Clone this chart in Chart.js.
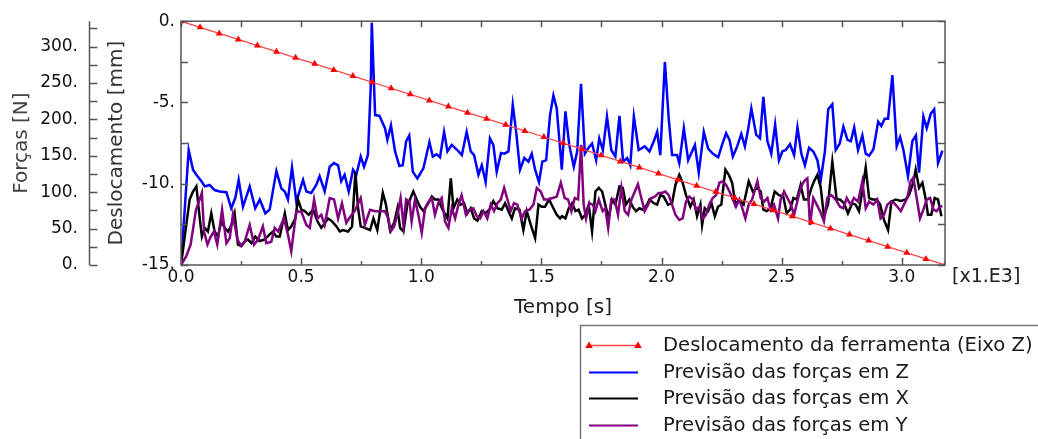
<!DOCTYPE html>
<html lang="pt">
<head>
<meta charset="utf-8">
<title>Deslocamento e forças</title>
<script src="https://cdn.jsdelivr.net/npm/chart.js@4.4.1/dist/chart.umd.min.js"></script>
<style>
  html, body { margin: 0; padding: 0; background: #fff; }
  #wrap { width: 1038px; height: 439px; }
</style>
</head>
<body>
<div id="wrap"><canvas id="grafico" width="1038" height="439"></canvas></div>
<script>
// Valores: tempo em s, forças em N, deslocamento em mm

const tempoDesl = [0, 79.5, 159, 238.5, 318, 397.5, 477, 556.5, 636, 715.5, 795, 874.5, 954, 1033.5,
    1113, 1192.5, 1272, 1351.5, 1431, 1510.5, 1590, 1669.5, 1749, 1828.5, 1908, 1987.5, 2067, 2146.5,
    2226, 2305.5, 2385, 2464.5, 2544, 2623.5, 2703, 2782.5, 2862, 2941.5, 3021, 3100.5, 3180];
const deslocamento = [0, -0.375, -0.75, -1.125, -1.5, -1.875, -2.25, -2.625, -3, -3.375, -3.75, -4.125,
    -4.5, -4.875, -5.25, -5.625, -6, -6.375, -6.75, -7.125, -7.5, -7.875, -8.25, -8.625, -9, -9.375,
    -9.75, -10.125, -10.5, -10.875, -11.25, -11.625, -12, -12.375, -12.75, -13.125, -13.5, -13.875,
    -14.25, -14.625, -15];

// Previsão das forças em Z (azul)
const tempoZ = [0, 32, 50, 64, 85, 99, 119, 140, 161, 189,
    209, 226, 240, 258, 286, 309, 328, 351, 369, 397,
    418, 432, 445, 462, 480, 508, 522, 542, 563, 577,
    598, 619, 637, 654, 667, 681, 698, 716, 730, 748,
    762, 778, 790, 794, 808, 826, 849, 859, 874, 891,
    909, 923, 937, 950, 965, 984, 1009, 1034, 1048, 1064,
    1078, 1095, 1109, 1127, 1150, 1169, 1189, 1206, 1220, 1238,
    1252, 1268, 1286, 1300, 1314, 1332, 1346, 1363, 1381, 1395,
    1411, 1429, 1446, 1460, 1474, 1490, 1504, 1520, 1536, 1550,
    1564, 1585, 1600, 1616, 1635, 1649, 1665, 1681, 1694, 1711,
    1728, 1741, 1756, 1773, 1791, 1808, 1825, 1840, 1857, 1870,
    1885, 1905, 1930, 1950, 1968, 1982, 1995, 2014, 2030, 2044,
    2065, 2074, 2093, 2111, 2127, 2139, 2155, 2176, 2194, 2213,
    2236, 2252, 2269, 2283, 2297, 2315, 2332, 2347, 2360, 2374,
    2394, 2410, 2424, 2441, 2457, 2473, 2489, 2503, 2517, 2535,
    2552, 2566, 2582, 2597, 2614, 2632, 2649, 2663, 2680, 2694,
    2711, 2725, 2742, 2757, 2774, 2788, 2802, 2818, 2836, 2850,
    2864, 2882, 2902, 2915, 2929, 2943, 2961, 2979, 2993, 3007,
    3026, 3044, 3059, 3072, 3090, 3104, 3121, 3135, 3151, 3169];
const forcaZ = [0, 158, 131, 124, 115, 108, 110, 103, 101, 100,
    78, 92, 117, 80, 108, 78, 90, 71, 76, 129,
    105, 101, 90, 134, 87, 117, 101, 99, 110, 122,
    101, 135, 140, 137, 115, 124, 101, 131, 124, 149,
    135, 151, 247, 333, 206, 205, 188, 172, 192, 156,
    136, 137, 170, 178, 128, 119, 133, 169, 149, 152,
    148, 183, 156, 165, 158, 151, 183, 156, 151, 124,
    137, 114, 174, 165, 128, 154, 153, 156, 220, 183,
    131, 147, 142, 153, 131, 114, 142, 144, 206, 233,
    215, 131, 211, 165, 135, 156, 249, 153, 160, 167,
    144, 174, 158, 204, 158, 149, 205, 142, 147, 137,
    204, 158, 163, 156, 170, 183, 151, 279, 201, 151,
    151, 140, 188, 144, 156, 165, 127, 183, 160, 153,
    148, 165, 181, 172, 149, 163, 180, 163, 185, 215,
    179, 174, 231, 170, 153, 193, 144, 156, 158, 166,
    151, 189, 153, 137, 161, 156, 144, 117, 156, 214,
    221, 158, 167, 190, 172, 170, 189, 158, 178, 153,
    150, 159, 197, 191, 201, 201, 261, 163, 176, 158,
    122, 170, 178, 127, 204, 188, 208, 214, 140, 157];

// Previsão das forças em X (preto)
const tempoX = [0, 36, 50, 64, 78, 87, 99, 112, 126, 140,
    154, 168, 182, 196, 210, 223, 237, 251, 265, 279,
    293, 309, 327, 348, 369, 383, 397, 411, 432, 445,
    459, 476, 487, 501, 515, 531, 550, 568, 584, 598,
    612, 629, 647, 661, 674, 695, 712, 726, 737, 748,
    765, 787, 801, 817, 840, 853, 870, 887, 901, 912,
    926, 942, 953, 967, 981, 995, 1009, 1026, 1044, 1057,
    1071, 1089, 1109, 1123, 1134, 1150, 1164, 1178, 1192, 1206,
    1220, 1234, 1252, 1266, 1284, 1300, 1317, 1335, 1349, 1363,
    1377, 1390, 1409, 1425, 1439, 1456, 1474, 1488, 1501, 1515,
    1532, 1550, 1564, 1578, 1586, 1600, 1614, 1628, 1642, 1655,
    1669, 1683, 1697, 1711, 1725, 1739, 1753, 1766, 1780, 1794,
    1808, 1825, 1839, 1852, 1866, 1880, 1894, 1908, 1922, 1940,
    1950, 1968, 1982, 1995, 2009, 2027, 2044, 2058, 2074, 2088,
    2102, 2120, 2134, 2148, 2162, 2169, 2180, 2194, 2208, 2222,
    2235, 2249, 2266, 2280, 2294, 2308, 2324, 2342, 2363, 2380,
    2399, 2413, 2424, 2438, 2454, 2471, 2489, 2507, 2521, 2535,
    2549, 2563, 2579, 2593, 2610, 2624, 2635, 2649, 2663, 2676,
    2693, 2711, 2729, 2743, 2760, 2776, 2794, 2808, 2822, 2832,
    2850, 2864, 2878, 2896, 2910, 2926, 2943, 2957, 2975, 2996,
    3016, 3030, 3048, 3058, 3072, 3086, 3100, 3109, 3123, 3137,
    3151, 3165];
const forcaX = [0, 90, 101, 108, 64, 39, 51, 46, 71, 46,
    39, 60, 51, 46, 55, 71, 28, 26, 32, 35,
    30, 39, 33, 35, 42, 46, 39, 39, 71, 48,
    53, 64, 90, 76, 74, 69, 76, 60, 51, 57,
    64, 60, 53, 46, 48, 46, 53, 128, 78, 53,
    51, 48, 64, 48, 99, 83, 48, 58, 78, 51,
    46, 83, 90, 101, 90, 80, 74, 83, 94, 90,
    90, 76, 64, 119, 78, 90, 83, 85, 71, 78,
    64, 61, 74, 71, 76, 88, 78, 76, 85, 74,
    64, 78, 76, 48, 74, 55, 37, 83, 80, 80,
    90, 78, 69, 64, 67, 64, 78, 85, 74, 76,
    64, 69, 83, 46, 101, 106, 101, 83, 64, 90,
    83, 108, 106, 83, 90, 80, 74, 78, 76, 83,
    90, 85, 83, 96, 94, 83, 85, 110, 124, 113,
    96, 80, 90, 67, 83, 55, 78, 74, 85, 67,
    80, 83, 131, 124, 113, 83, 90, 83, 115, 101,
    106, 101, 76, 74, 78, 101, 96, 94, 71, 76,
    92, 90, 110, 90, 90, 106, 115, 124, 106, 67,
    83, 142, 90, 90, 85, 71, 85, 83, 74, 94,
    134, 92, 90, 90, 83, 62, 48, 87, 90, 88,
    90, 96, 113, 131, 106, 113, 90, 69, 69, 92,
    90, 67];

// Previsão das forças em Y (roxo)
const tempoY = [0, 22, 40, 62, 87, 96, 110, 124, 137, 151,
    171, 189, 203, 216, 235, 251, 265, 286, 304, 321,
    341, 355, 376, 390, 404, 429, 445, 459, 480, 501,
    522, 536, 554, 568, 584, 598, 619, 637, 654, 670,
    688, 706, 723, 748, 765, 787, 808, 828, 849, 863,
    873, 887, 901, 914, 926, 937, 951, 960, 974, 988,
    1002, 1016, 1030, 1044, 1057, 1071, 1085, 1099, 1113, 1127,
    1141, 1155, 1168, 1186, 1200, 1217, 1231, 1245, 1259, 1275,
    1289, 1303, 1317, 1331, 1345, 1359, 1372, 1386, 1400, 1418,
    1432, 1450, 1467, 1481, 1497, 1511, 1529, 1547, 1564, 1581,
    1597, 1611, 1625, 1639, 1653, 1665, 1676, 1686, 1700, 1714,
    1725, 1739, 1755, 1766, 1778, 1791, 1805, 1819, 1833, 1847,
    1861, 1875, 1889, 1902, 1916, 1930, 1944, 1958, 1972, 1988,
    2002, 2016, 2030, 2044, 2058, 2074, 2088, 2102, 2116, 2130,
    2144, 2158, 2172, 2185, 2199, 2213, 2227, 2241, 2255, 2269,
    2283, 2297, 2310, 2324, 2338, 2349, 2363, 2377, 2399, 2413,
    2427, 2441, 2454, 2468, 2485, 2496, 2510, 2524, 2538, 2552,
    2565, 2579, 2593, 2607, 2618, 2632, 2646, 2660, 2676, 2690,
    2707, 2725, 2743, 2757, 2771, 2787, 2801, 2818, 2836, 2850,
    2864, 2882, 2898, 2912, 2926, 2940, 2954, 2968, 2982, 2996,
    3009, 3023, 3037, 3048, 3062, 3076, 3090, 3104, 3118, 3132,
    3145, 3159, 3169];
const forcaY = [0, 12, 28, 75, 99, 46, 28, 39, 46, 28,
    76, 30, 37, 69, 35, 26, 32, 55, 28, 35,
    53, 30, 32, 51, 46, 64, 42, 19, 74, 73,
    55, 51, 90, 64, 69, 55, 92, 90, 64, 85,
    58, 67, 74, 92, 55, 76, 74, 74, 74, 64,
    46, 53, 69, 92, 55, 90, 87, 60, 90, 69,
    44, 78, 87, 92, 69, 85, 92, 60, 51, 78,
    64, 83, 96, 69, 76, 78, 67, 64, 74, 64,
    83, 74, 85, 90, 106, 90, 74, 85, 83, 64,
    74, 76, 83, 106, 101, 90, 90, 92, 94, 113,
    92, 90, 74, 92, 90, 165, 83, 64, 85, 83,
    74, 90, 74, 78, 51, 90, 90, 69, 106, 74,
    69, 90, 101, 111, 92, 74, 83, 92, 94, 99,
    99, 101, 96, 83, 69, 62, 64, 87, 94, 90,
    76, 80, 64, 69, 83, 92, 96, 113, 115, 110,
    101, 90, 80, 90, 76, 64, 83, 90, 115, 92,
    87, 92, 76, 83, 64, 90, 101, 92, 83, 69,
    87, 106, 115, 119, 55, 92, 83, 74, 60, 92,
    96, 90, 80, 78, 92, 83, 92, 87, 115, 78,
    87, 83, 90, 64, 69, 83, 87, 85, 80, 74,
    83, 92, 115, 120, 92, 64, 76, 90, 92, 76,
    74, 80, 81];

// Marcas dos eixos
const ticksTempo = [0, 500, 1000, 1500, 2000, 2500, 3000];
const ticksForca = [0, 50, 100, 150, 200, 250, 300];
const ticksDesl = [0, -5, -10, -15];

const FONTE = "'DejaVu Sans', Verdana, sans-serif";

function pares(xs, ys) {
    const n = Math.min(xs.length, ys.length);
    if (xs.length !== ys.length) console.warn('tamanhos diferentes', xs.length, ys.length);
    const out = [];
    for (let i = 0; i < n; i++) out.push({ x: xs[i], y: ys[i] });
    return out;
}

function triangulo(ctx, x, y, r) {
    ctx.beginPath();
    ctx.moveTo(x, y - r);
    ctx.lineTo(x + r * 0.95, y + r * 0.6);
    ctx.lineTo(x - r * 0.95, y + r * 0.6);
    ctx.closePath();
    ctx.fill();
}

// Moldura, marcas internas, eixo das forças e legenda
const moldura = {
    id: 'moldura',
    afterDraw(chart) {
        const ctx = chart.ctx;
        const a = chart.chartArea;
        const sx = chart.scales.x;
        const sd = chart.scales.yDesl;
        const sf = chart.scales.yForca;
        ctx.save();
        ctx.strokeStyle = '#555';
        ctx.lineWidth = 1.5;

        // marcas internas em cima e em baixo
        ctx.beginPath();
        for (let v = 0; v <= sx.max; v += 250) {
            const px = Math.round(sx.getPixelForValue(v)) + 0.5;
            const longa = v % 500 === 0;
            ctx.moveTo(px, a.top);
            ctx.lineTo(px, a.top + 6);
            ctx.moveTo(px, a.bottom);
            ctx.lineTo(px, a.bottom - (longa ? 7 : 4));
        }
        // marcas internas à esquerda e à direita
        for (let v = 0; v >= -15; v -= 2.5) {
            const py = Math.round(sd.getPixelForValue(v)) + 0.5;
            ctx.moveTo(a.left, py);
            ctx.lineTo(a.left + 7, py);
            ctx.moveTo(a.right, py);
            ctx.lineTo(a.right - 7, py);
        }
        ctx.stroke();
        ctx.strokeRect(a.left, a.top, a.right - a.left, a.bottom - a.top);

        // eixo das forças
        const ex = Math.round(sf.right) + 0.5;
        ctx.beginPath();
        ctx.moveTo(ex, sf.getPixelForValue(sf.max));
        ctx.lineTo(ex, sf.getPixelForValue(0));
        for (let v = 0; v <= sf.max; v += 25) {
            const py = Math.round(sf.getPixelForValue(v)) + 0.5;
            ctx.moveTo(ex, py);
            ctx.lineTo(ex + 8, py);
        }
        ctx.stroke();

        // multiplicador do eixo do tempo
        ctx.fillStyle = '#222';
        ctx.font = '19px ' + FONTE;
        ctx.textAlign = 'left';
        ctx.textBaseline = 'middle';
        ctx.fillText('[x1.E3]', a.right + 7, a.bottom + 12);

        // legenda
        ctx.strokeStyle = '#777';
        ctx.lineWidth = 1.5;
        ctx.strokeRect(580.5, 325.5, 480, 140);
        ctx.font = '19.6px ' + FONTE;
        chart.data.datasets.forEach((ds, i) => {
            const y = Math.round(345 + i * 26.6) + 0.5;
            ctx.strokeStyle = ds.borderColor;
            ctx.lineWidth = i === 0 ? 1.3 : 2.2;
            ctx.beginPath();
            ctx.moveTo(589, y);
            ctx.lineTo(638, y);
            ctx.stroke();
            if (i === 0) {
                ctx.fillStyle = ds.pointBackgroundColor;
                triangulo(ctx, 589, y, 4);
                triangulo(ctx, 638, y, 4);
            }
            ctx.fillStyle = '#1a1a1a';
            ctx.fillText(ds.label, 663, y);
        });
        ctx.restore();
    }
};

Chart.defaults.font.family = FONTE;
Chart.defaults.color = '#111';

new Chart(document.getElementById('grafico'), {
    type: 'line',
    data: {
        datasets: [
            {
                label: 'Deslocamento da ferramenta (Eixo Z)',
                data: pares(tempoDesl, deslocamento),
                yAxisID: 'yDesl',
                borderColor: 'rgb(255, 70, 70)',
                borderWidth: 1.3,
                pointStyle: 'triangle',
                pointRadius: 4,
                pointBackgroundColor: '#ff0000',
                pointBorderColor: '#ff0000',
                pointBorderWidth: 0,
                order: 0
            },
            {
                label: 'Previsão das forças em Z',
                data: pares(tempoZ, forcaZ),
                yAxisID: 'yForca',
                borderColor: '#0000ff',
                borderWidth: 2.5,
                pointRadius: 0,
                order: 3
            },
            {
                label: 'Previsão das forças em X',
                data: pares(tempoX, forcaX),
                yAxisID: 'yForca',
                borderColor: '#000000',
                borderWidth: 2.5,
                pointRadius: 0,
                order: 2
            },
            {
                label: 'Previsão das forças em Y',
                data: pares(tempoY, forcaY),
                yAxisID: 'yForca',
                borderColor: '#800080',
                borderWidth: 2.5,
                pointRadius: 0,
                order: 1
            }
        ]
    },
    options: {
        responsive: false,
        animation: false,
        events: [],
        layout: { padding: { left: 6, top: 21, right: 93, bottom: 118 } },
        plugins: {
            legend: { display: false },
            tooltip: { enabled: false }
        },
        scales: {
            x: {
                type: 'linear',
                min: 0,
                max: 3180,
                afterBuildTicks: axis => { axis.ticks = ticksTempo.map(v => ({ value: v })); },
                afterFit: axis => { axis.height = 56; },
                grid: { display: false, drawTicks: false },
                border: { display: false },
                ticks: {
                    padding: 2,
                    maxRotation: 0,
                    font: { size: 17 },
                    callback: v => (v / 1000).toFixed(1)
                },
                title: {
                    display: true,
                    text: 'Tempo [s]',
                    color: '#222',
                    font: { size: 20 },
                    padding: { top: 6, bottom: 1 }
                }
            },
            yDesl: {
                type: 'linear',
                position: 'left',
                weight: 0,
                min: -15,
                max: 0,
                afterBuildTicks: axis => { axis.ticks = ticksDesl.map(v => ({ value: v })); },
                afterFit: axis => { axis.width = 92; },
                grid: { display: false, drawTicks: false },
                border: { display: false },
                ticks: {
                    padding: 6,
                    font: { size: 17 },
                    callback: v => v + '.'
                },
                title: {
                    display: true,
                    text: 'Deslocamento [mm]',
                    color: '#333',
                    font: { size: 20 },
                    padding: { top: 15.5, bottom: 4 }
                }
            },
            yForca: {
                type: 'linear',
                position: 'left',
                weight: 10,
                min: 0,
                max: 335,
                afterBuildTicks: axis => { axis.ticks = ticksForca.map(v => ({ value: v })); },
                afterFit: axis => { axis.width = 83; },
                grid: { display: false, drawTicks: false },
                border: { display: false },
                ticks: {
                    padding: 11,
                    font: { size: 17 },
                    callback: v => v + '.'
                },
                title: {
                    display: true,
                    text: 'Forças [N]',
                    color: '#444',
                    font: { size: 20 },
                    padding: { top: 4, bottom: 2 }
                }
            }
        }
    },
    plugins: [moldura]
});
</script>
</body>
</html>
